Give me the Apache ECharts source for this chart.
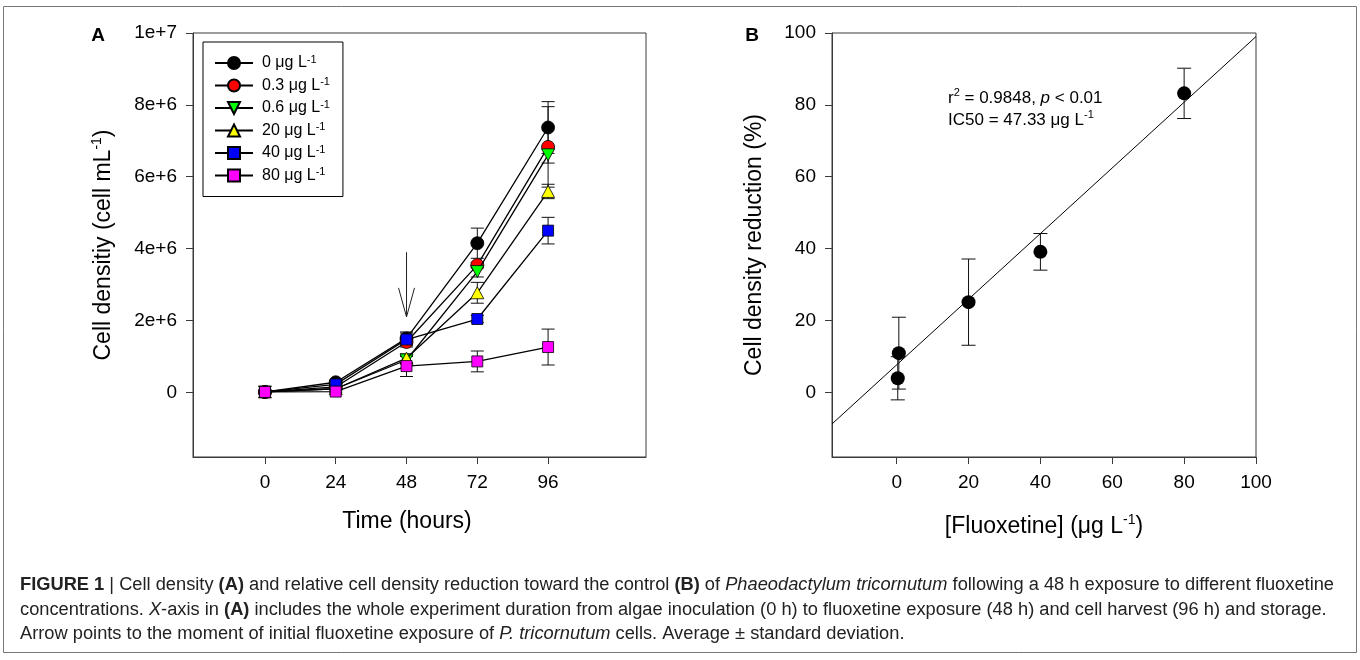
<!DOCTYPE html>
<html><head><meta charset="utf-8">
<script src="https://cdn.jsdelivr.net/npm/echarts@6/dist/echarts.min.js"></script>
<style>html,body{margin:0;padding:0;background:#fff}#c{width:1360px;height:660px}</style>
</head><body><div id="c"></div>
<script>
// ---------- Panel A data ----------
const hours = [0, 24, 48, 72, 96];
const concLabels = ['0', '0.3', '0.6', '20', '40', '80'];
const dens0  = [0.01e6, 0.28e6, 1.50e6, 4.15e6, 7.37e6];
const dens03 = [0.01e6, 0.15e6, 1.40e6, 3.54e6, 6.83e6];
const dens06 = [0.01e6, 0.10e6, 0.90e6, 3.36e6, 6.61e6];
const dens20 = [0.01e6, 0.10e6, 0.95e6, 2.77e6, 5.59e6];
const dens40 = [0.01e6, 0.22e6, 1.47e6, 2.04e6, 4.50e6];
const dens80 = [0.01e6, 0.02e6, 0.73e6, 0.86e6, 1.26e6];
const sd0  = [0, 0.04e6, 0.15e6, 0.42e6, 0.72e6];
const sd03 = [0, 0.03e6, 0.10e6, 0.08e6, 1.12e6];
const sd06 = [0, 0.03e6, 0.10e6, 0.15e6, 0.23e6];
const sd20 = [0, 0.03e6, 0.12e6, 0.29e6, 0.20e6];
const sd40 = [0, 0.04e6, 0.21e6, 0.10e6, 0.37e6];
const sd80 = [0, 0.02e6, 0.29e6, 0.29e6, 0.50e6];
const yTicksA = [0, 2e6, 4e6, 6e6, 8e6, 1e7];
const yTickLabelsA = ['0', '2e+6', '4e+6', '6e+6', '8e+6', '1e+7'];
const arrowA = [[48, 3.9e6, 2.1e6]]; // x, start value, tip value

// ---------- Panel B data ----------
const concB = [0.3, 0.6, 20, 40, 80];
const reductionB = [3.9, 10.9, 25.1, 39.1, 83.2];
const reductionSdB = [6.0, 10.0, 12.0, 5.1, 7.0];
const fitLineB = [[-18, -8.8], [100, 99.0]];
const xTicksB = [0, 20, 40, 60, 80, 100];
const yTicksB = [0, 20, 40, 60, 80, 100];

// ---------- Caption text ----------
const captionLine1 = [['b','FIGURE 1 '],['n','| Cell density '],['b','(A)'],['n',' and relative cell density reduction toward the control '],['b','(B)'],['n',' of '],['i','Phaeodactylum tricornutum'],['n',' following a 48 h exposure to different fluoxetine']];
const captionLine2 = [['n','concentrations. '],['i','X'],['n','-axis in '],['b','(A)'],['n',' includes the whole experiment duration from algae inoculation (0 h) to fluoxetine exposure (48 h) and cell harvest (96 h) and storage.']];
const captionLine3 = [['n','Arrow points to the moment of initial fluoxetine exposure of '],['i','P. tricornutum'],['n',' cells. Average \u00b1 standard deviation.']];

// ---------- styles ----------
const FONT = '"Liberation Sans", Arial, sans-serif';
const axisColor = '#3a3a3a';
const densSeries = [dens0, dens03, dens06, dens20, dens40, dens80];
const sdSeries = [sd0, sd03, sd06, sd20, sd40, sd80];
const markerStyles = [
  {symbol: 'circle', size: 13, fill: '#000000'},
  {symbol: 'circle', size: 13, fill: '#ff0000'},
  {symbol: 'path://M0,0L10,0L5,9Z', size: [13, 12], fill: '#00ff00'},
  {symbol: 'path://M5,0L10,9L0,9Z', size: [13, 12], fill: '#ffff00'},
  {symbol: 'rect', size: 11, fill: '#0000ff'},
  {symbol: 'rect', size: 11, fill: '#ff00ff'}
];

const chart = echarts.init(document.getElementById('c'), null, {renderer: 'canvas'});

function errBarRender(hw) {
  return function (params, api) {
    const x = api.value(0), m = api.value(1), s = api.value(2);
    if (!s) return null;
    const t = api.coord([x, m + s]), b = api.coord([x, m - s]);
    const st = {stroke: '#111', lineWidth: 1};
    return {type: 'group', children: [
      {type: 'line', shape: {x1: t[0], y1: t[1], x2: b[0], y2: b[1]}, style: st},
      {type: 'line', shape: {x1: t[0] - hw, y1: t[1], x2: t[0] + hw, y2: t[1]}, style: st},
      {type: 'line', shape: {x1: b[0] - hw, y1: b[1], x2: b[0] + hw, y2: b[1]}, style: st}
    ]};
  };
}

const series = [];
// error bars A
densSeries.forEach((d, i) => {
  series.push({
    type: 'custom', name: 'errA' + i, xAxisIndex: 0, yAxisIndex: 0, z: 1,
    renderItem: errBarRender(6.5),
    encode: {x: 0, y: 1},
    data: hours.map((h, k) => [h, d[k], sdSeries[i][k]])
  });
});
// lines A
densSeries.forEach((d, i) => {
  const ms = markerStyles[i];
  series.push({
    type: 'line', name: concLabels[i], xAxisIndex: 0, yAxisIndex: 0, z: 2 + i,
    symbol: ms.symbol, symbolSize: ms.size, showSymbol: true,
    lineStyle: {color: '#000', width: 1.3},
    itemStyle: {color: ms.fill, borderColor: '#000', borderWidth: 0.8},
    data: hours.map((h, k) => [h, d[k]])
  });
});
// arrow A
series.push({
  type: 'custom', name: 'arrow', xAxisIndex: 0, yAxisIndex: 0, z: 10,
  renderItem: function (params, api) {
    const t = api.coord([api.value(0), api.value(1)]);
    const b = api.coord([api.value(0), api.value(2)]);
    const st = {stroke: '#222', lineWidth: 1};
    return {type: 'group', children: [
      {type: 'line', shape: {x1: t[0], y1: t[1], x2: b[0], y2: b[1]}, style: st},
      {type: 'line', shape: {x1: b[0], y1: b[1], x2: b[0] - 8, y2: b[1] - 29}, style: st},
      {type: 'line', shape: {x1: b[0], y1: b[1], x2: b[0] + 8, y2: b[1] - 29}, style: st}
    ]};
  },
  data: arrowA
});
// B fit line
series.push({
  type: 'line', name: 'fit', xAxisIndex: 1, yAxisIndex: 1, z: 1,
  showSymbol: false, symbol: 'none', lineStyle: {color: '#000', width: 1}, data: fitLineB
});
// B error bars
series.push({
  type: 'custom', name: 'errB', xAxisIndex: 1, yAxisIndex: 1, z: 2,
  renderItem: errBarRender(7), encode: {x: 0, y: 1},
  data: concB.map((c, k) => [c, reductionB[k], reductionSdB[k]])
});
// B points
series.push({
  type: 'scatter', name: 'reduction', xAxisIndex: 1, yAxisIndex: 1, z: 3,
  symbol: 'circle', symbolSize: 14, itemStyle: {color: '#000', opacity: 1},
  data: concB.map((c, k) => [c, reductionB[k]])
});

const tickLabel = {fontFamily: FONT, fontSize: 19, color: '#000'};
function valAxis(gridIndex, min, max, ticks, labels, margin) {
  return {
    type: 'value', gridIndex, min, max,
    axisLine: {show: true, onZero: false, lineStyle: {color: axisColor, width: 1}},
    axisTick: {show: true, length: 7, customValues: ticks, lineStyle: {color: axisColor}},
    axisLabel: Object.assign({customValues: ticks, margin,
      formatter: v => { const k = ticks.indexOf(v); return k >= 0 ? labels[k] : ''; }}, tickLabel),
    splitLine: {show: false}
  };
}

function richOf(segs) { return segs.map(s => '{' + s[0] + '|' + s[1] + '}').join(''); }
const capSize = 18;
const cv = document.createElement('canvas').getContext('2d');
function segsWidth(segs) {
  let w = 0;
  segs.forEach(s => {
    cv.font = (s[0] === 'b' ? 'bold ' : s[0] === 'i' ? 'italic ' : '') + capSize + 'px "Liberation Sans"';
    w += cv.measureText(s[1]).width;
  });
  return w;
}
const capScale = 1314 / segsWidth(captionLine1);
const capRich = {
  n: {fontFamily: FONT, fontSize: capSize, fill: '#222'},
  b: {fontFamily: FONT, fontSize: capSize, fontWeight: 'bold', fill: '#222'},
  i: {fontFamily: FONT, fontSize: capSize, fontStyle: 'italic', fill: '#222'}
};
function capText(segs, y) {
  return {type: 'text', x: 20, y: y, scaleX: capScale, scaleY: 1,
    style: {text: richOf(segs), rich: capRich, align: 'left', verticalAlign: 'middle'}};
}

function titleRich(size) {
  return {
    n: {fontFamily: FONT, fontSize: size, fill: '#000', lineHeight: size + 4},
    i: {fontFamily: FONT, fontSize: size, fontStyle: 'italic', fill: '#000', lineHeight: size + 4},
    sup: {fontFamily: FONT, fontSize: Math.round(size * 0.62), fill: '#000', verticalAlign: 'top'}
  };
}
function titleText(text, x, y, size, rot) {
  return {type: 'text', x, y, rotation: rot || 0,
    style: {text, rich: titleRich(size), align: 'center', verticalAlign: 'middle'}};
}

const option = {
  animation: false,
  backgroundColor: '#fff',
  grid: [
    {left: 193, top: 33, width: 453, height: 424, show: true, borderColor: axisColor, borderWidth: 1},
    {left: 832, top: 33, width: 424, height: 424, show: true, borderColor: axisColor, borderWidth: 1}
  ],
  xAxis: [
    valAxis(0, -24.4, 129.2, hours, hours.map(String), 16),
    valAxis(1, -18, 100, xTicksB, xTicksB.map(String), 16)
  ],
  yAxis: [
    valAxis(0, -1.8e6, 1e7, yTicksA, yTickLabelsA, 16),
    valAxis(1, -18, 100, yTicksB, yTicksB.map(String), 16)
  ],
  legend: {
    data: concLabels, orient: 'vertical', left: 203, top: 42,
    padding: [12, 13, 13, 11], itemWidth: 38, itemHeight: 15, itemGap: 5.5,
    borderColor: '#000', borderWidth: 1, backgroundColor: '#fff', selectedMode: false,
    formatter: name => '{n|' + name + ' \u03bcg L}{sup|-1}',
    textStyle: {fontFamily: FONT, fontSize: 16, color: '#000', padding: [0, 0, 0, 4],
      rich: {n: {fontFamily: FONT, fontSize: 16, color: '#000', lineHeight: 18},
             sup: {fontFamily: FONT, fontSize: 11, color: '#000', verticalAlign: 'top'}}}
  },
  series,
  graphic: [
    {type: 'rect', shape: {x: 3.5, y: 6.5, width: 1353, height: 646}, style: {fill: 'none', stroke: '#777', lineWidth: 1}, silent: true},
    {type: 'text', x: 98, y: 36, style: {text: 'A', font: 'bold 19px ' + FONT, fill: '#000', align: 'center', verticalAlign: 'middle'}},
    {type: 'text', x: 752, y: 36, style: {text: 'B', font: 'bold 19px ' + FONT, fill: '#000', align: 'center', verticalAlign: 'middle'}},
    titleText('{n|Cell densitiy (cell mL}{sup|-1}{n|)}', 104, 245, 23, Math.PI / 2),
    titleText('{n|Time (hours)}', 407, 522, 23),
    titleText('{n|Cell density reduction (%)}', 755, 245, 23, Math.PI / 2),
    titleText('{n|[Fluoxetine] (\u03bcg L}{sup|-1}{n|)}', 1044, 527, 23),
    {type: 'text', x: 948, y: 98, style: {text: '{n|r}{sup|2}{n| = 0.9848, }{i|p}{n| < 0.01}', rich: titleRich(17), align: 'left', verticalAlign: 'middle'}},
    {type: 'text', x: 948, y: 120, style: {text: '{n|IC50 = 47.33 \u03bcg L}{sup|-1}', rich: titleRich(17), align: 'left', verticalAlign: 'middle'}},
    capText(captionLine1, 585),
    capText(captionLine2, 610),
    capText(captionLine3, 634)
  ]
};
chart.setOption(option);
</script>
</body></html>
